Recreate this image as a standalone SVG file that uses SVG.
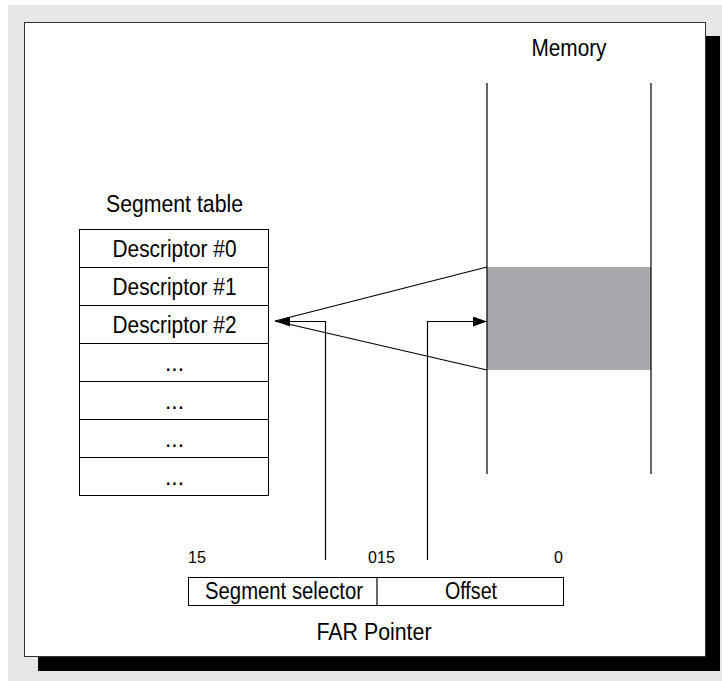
<svg xmlns="http://www.w3.org/2000/svg" width="722" height="681" viewBox="0 0 722 681">
<style>
text{font-family:"Liberation Sans",Arial,sans-serif;fill:#000}
.t{font-size:23px;text-anchor:middle}
.n{font-size:16px}
.ln{stroke:#000;stroke-width:1.2;fill:none}
.cell{fill:#fff;stroke:#000;stroke-width:1}
</style>
<defs>
<marker id="ah" markerWidth="14" markerHeight="10" refX="14" refY="5" orient="auto" markerUnits="userSpaceOnUse">
<path d="M0,0 L14,5 L0,10 Z" fill="#000"/>
</marker>
</defs>
<rect x="8" y="5" width="714" height="676" fill="#e6e7e8"/>
<rect x="38" y="36" width="682" height="635" fill="#000"/>
<rect x="24.5" y="22.5" width="681" height="634" fill="#fff" stroke="#333" stroke-width="1"/>

<g id="memory">
<text class="t" x="569" y="56" textLength="75" lengthAdjust="spacingAndGlyphs">Memory</text>
<rect x="487" y="267" width="164" height="103" fill="#a7a9ac"/>
<line class="ln" x1="487" y1="83" x2="487" y2="474"/>
<line class="ln" x1="651" y1="83" x2="651" y2="474"/>
</g>

<g id="segment-table">
<text class="t" x="174.5" y="212" textLength="137" lengthAdjust="spacingAndGlyphs">Segment table</text>
<rect class="cell" x="79.5" y="229.5" width="189" height="38"/>
<rect class="cell" x="79.5" y="267.5" width="189" height="38"/>
<rect class="cell" x="79.5" y="305.5" width="189" height="38"/>
<rect class="cell" x="79.5" y="343.5" width="189" height="38"/>
<rect class="cell" x="79.5" y="381.5" width="189" height="38"/>
<rect class="cell" x="79.5" y="419.5" width="189" height="38"/>
<rect class="cell" x="79.5" y="457.5" width="189" height="38"/>
<text class="t" x="174.5" y="257" textLength="124" lengthAdjust="spacingAndGlyphs">Descriptor #0</text>
<text class="t" x="174.5" y="295" textLength="124" lengthAdjust="spacingAndGlyphs">Descriptor #1</text>
<text class="t" x="174.5" y="333" textLength="124" lengthAdjust="spacingAndGlyphs">Descriptor #2</text>
<text class="t" x="174.5" y="371">...</text>
<text class="t" x="174.5" y="409">...</text>
<text class="t" x="174.5" y="447">...</text>
<text class="t" x="174.5" y="485">...</text>
</g>

<g id="far-pointer">
<rect class="cell" x="188.5" y="577.5" width="375" height="28"/>
<line class="ln" x1="377" y1="577" x2="377" y2="605"/>
<text class="n" x="188" y="563">15</text>
<text class="n" x="377" y="563" text-anchor="end">0</text>
<text class="n" x="377" y="563">15</text>
<text class="n" x="563" y="563" text-anchor="end">0</text>
<text class="t" x="284" y="599" textLength="158" lengthAdjust="spacingAndGlyphs">Segment selector</text>
<text class="t" x="471" y="599" textLength="52" lengthAdjust="spacingAndGlyphs">Offset</text>
<text class="t" x="374" y="640" textLength="115" lengthAdjust="spacingAndGlyphs">FAR Pointer</text>
</g>

<g id="connectors">
<line class="ln" x1="275" y1="321" x2="487" y2="267"/>
<line class="ln" x1="275" y1="321" x2="487" y2="370"/>
<polyline class="ln" points="325.5,560 325.5,321.5 276,321.5" marker-end="url(#ah)"/>
<polyline class="ln" points="427.5,560 427.5,321.5 487,321.5" marker-end="url(#ah)"/>
</g>
</svg>
